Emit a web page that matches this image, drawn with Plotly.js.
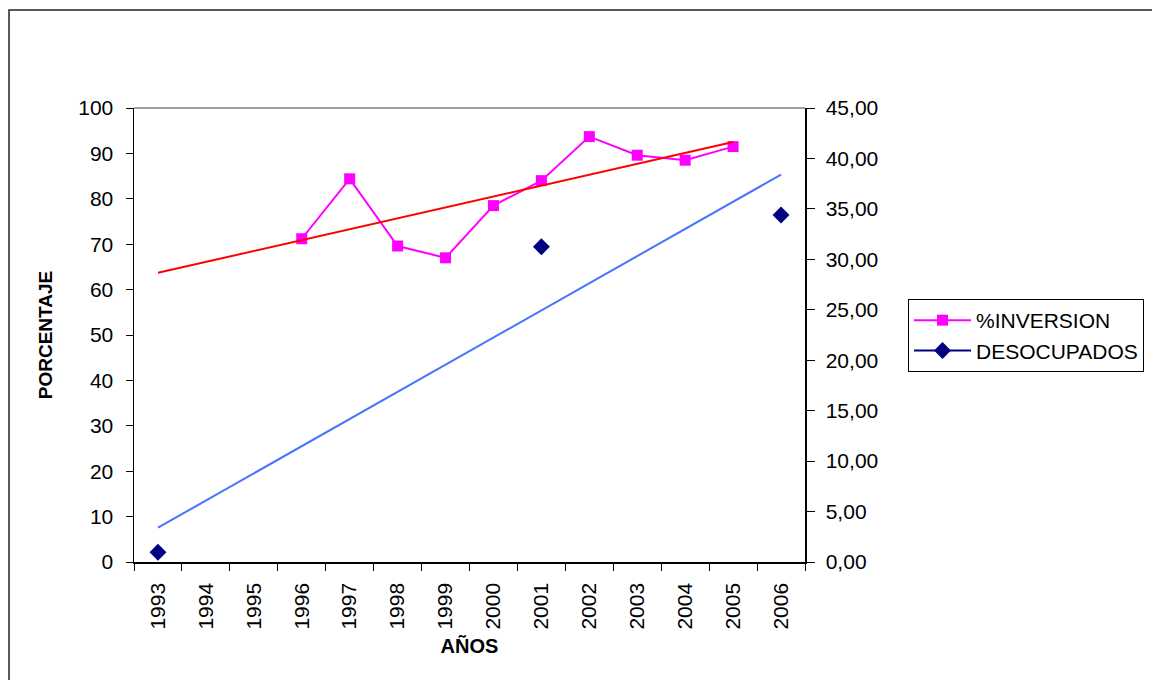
<!DOCTYPE html>
<html><head><meta charset="utf-8">
<script src="https://cdn.plot.ly/plotly-3.0.1.min.js"></script>
<style>html,body{margin:0;padding:0;background:#fff;overflow:hidden}#chart{width:1152px;height:680px}</style>
</head><body><div id="chart"></div>
<script>
// ---- data ----
const years = ['1993','1994','1995','1996','1997','1998','1999','2000','2001','2002','2003','2004','2005','2006'];
const inversion = [null, null, null, 71.2, 84.4, 69.6, 67.0, 78.5, 84.0, 93.7, 89.6, 88.5, 91.5, null];
const desocupados = [0.96, null, null, null, null, null, null, null, 31.25, null, null, null, null, 34.4];
const trendInvYears = ['1993', '2005'];
const trendInv = [63.7, 92.5];
const trendDesYears = ['1993', '2006'];
const trendDes = [3.4, 38.4];
const leftTicks = [0, 10, 20, 30, 40, 50, 60, 70, 80, 90, 100];
const rightTicks = [0, 5, 10, 15, 20, 25, 30, 35, 40, 45];
const boundaryTicks = [-0.5, 0.5, 1.5, 2.5, 3.5, 4.5, 5.5, 6.5, 7.5, 8.5, 9.5, 10.5, 11.5, 12.5, 13.5];

const FONT = 'Liberation Sans, Arial, sans-serif';
const W = 1152, H = 680;
const L = 134, R = 805, T = 108, B = 562;
const px = v => (v - L) / (R - L);
const py = v => (B - v) / (B - T);

const traces = [
  {
    x: years, y: inversion, name: '%INVERSION', type: 'scatter', mode: 'lines+markers',
    connectgaps: false, xaxis: 'x', yaxis: 'y',
    line: {color: '#FF00FF', width: 2},
    marker: {symbol: 'square', size: 11, color: '#FF00FF'}
  },
  {
    x: years, y: desocupados, name: 'DESOCUPADOS', type: 'scatter', mode: 'lines+markers',
    connectgaps: false, xaxis: 'x', yaxis: 'y2',
    line: {color: '#000080', width: 2},
    marker: {symbol: 'diamond', size: 13, color: '#000080'}
  },
  {
    x: trendInvYears, y: trendInv, type: 'scatter', mode: 'lines', showlegend: false,
    xaxis: 'x', yaxis: 'y', hoverinfo: 'skip',
    line: {color: '#FF0000', width: 2}
  },
  {
    x: trendDesYears, y: trendDes, type: 'scatter', mode: 'lines', showlegend: false,
    xaxis: 'x', yaxis: 'y2', hoverinfo: 'skip',
    line: {color: '#4575FF', width: 2}
  }
];

const tickFont = {family: FONT, size: 21, color: '#000'};

const layout = {
  width: W, height: H,
  margin: {l: L, r: W - R, t: T, b: H - B, pad: 0, autoexpand: false},
  paper_bgcolor: '#fff', plot_bgcolor: '#fff',
  separators: ',.',
  showlegend: true,
  font: {family: FONT, color: '#000'},
  xaxis: {
    type: 'category', categoryorder: 'array', categoryarray: years,
    range: [-0.5, 13.5], tickson: 'boundaries',
    ticks: 'outside', ticklen: 7, tickwidth: 1, tickcolor: '#000',
    tickangle: -90, tickfont: tickFont, ticklabelstandoff: 11,
    showline: true, linecolor: '#000', linewidth: 1.5,
    showgrid: false, zeroline: false, automargin: false,
    title: {text: '<b>AÑOS</b>', font: {family: FONT, size: 20, color: '#000'}, standoff: 10}
  },
  xaxis2: {
    overlaying: 'x', anchor: 'y', side: 'bottom',
    range: [-0.5, 13.5], tickmode: 'array', tickvals: boundaryTicks,
    ticks: 'inside', ticklen: 7, tickwidth: 1, tickcolor: '#000',
    showticklabels: false, showline: false, showgrid: false, zeroline: false
  },
  yaxis: {
    range: [0, 100], tickmode: 'array', tickvals: leftTicks,
    ticks: 'outside', ticklen: 7, tickwidth: 1, tickcolor: '#000',
    tickfont: tickFont, ticklabelstandoff: 8,
    showline: true, linecolor: '#000', linewidth: 1.5,
    showgrid: false, zeroline: false, automargin: false,
    title: {text: '<b>PORCENTAJE</b>', font: {family: FONT, size: 19, color: '#000'}, standoff: 20}
  },
  yaxis3: {
    overlaying: 'y', anchor: 'x', side: 'left',
    range: [0, 100], tickmode: 'array', tickvals: leftTicks,
    ticks: 'inside', ticklen: 7, tickwidth: 1, tickcolor: '#000',
    showticklabels: false, showline: false, showgrid: false, zeroline: false
  },
  yaxis2: {
    overlaying: 'y', anchor: 'x', side: 'right',
    range: [0, 45], tickmode: 'array', tickvals: rightTicks, tickformat: '.2f',
    ticks: 'outside', ticklen: 8, tickwidth: 1, tickcolor: '#000',
    tickfont: tickFont, ticklabelstandoff: 7,
    showline: true, linecolor: '#000', linewidth: 1.5,
    showgrid: false, zeroline: false, automargin: false
  },
  yaxis4: {
    overlaying: 'y', anchor: 'x', side: 'right',
    range: [0, 45], tickmode: 'array', tickvals: rightTicks,
    ticks: 'inside', ticklen: 8, tickwidth: 1, tickcolor: '#000',
    showticklabels: false, showline: false, showgrid: false, zeroline: false
  },
  legend: {
    x: px(908), xanchor: 'left', y: py(299), yanchor: 'top',
    bordercolor: '#000', borderwidth: 1, bgcolor: '#fff',
    font: {family: FONT, size: 21, color: '#000'},
    tracegroupgap: 0, itemwidth: 57
  },
  shapes: [
    {type: 'line', xref: 'paper', yref: 'paper', x0: 0, x1: 1, y0: 1, y1: 1,
     line: {color: '#808080', width: 1.5}},
    {type: 'rect', xref: 'paper', yref: 'paper',
     x0: px(9), x1: px(1160), y0: py(690), y1: py(10),
     line: {color: '#222', width: 1.5}, fillcolor: 'rgba(0,0,0,0)', layer: 'below'}
  ]
};

Plotly.newPlot('chart', traces, layout, {staticPlot: true, displayModeBar: false});
</script>
</body></html>
